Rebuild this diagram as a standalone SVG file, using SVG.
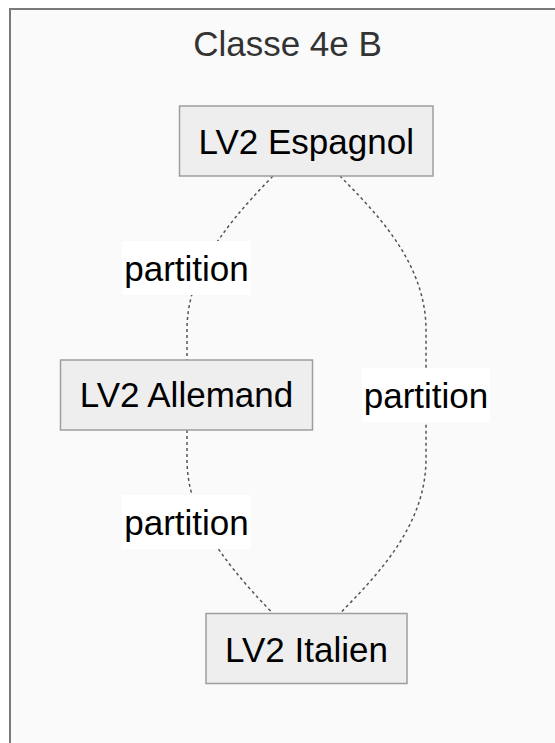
<svg xmlns="http://www.w3.org/2000/svg" width="555" height="743" viewBox="0 0 555 743">
<style>
text{font-family:"Liberation Sans",Arial,Helvetica,sans-serif;font-size:35px;text-anchor:middle}
.node rect{fill:#eeeeee;stroke:#9e9e9e;stroke-width:1.5}
.node text{fill:#000}
.edge{fill:none;stroke:#555;stroke-width:1.5;stroke-dasharray:3 3}
.lbl rect{fill:#fff}
.lbl text{fill:#000}
</style>
<rect width="555" height="743" fill="#fff"/>
<g id="cluster">
<rect x="10" y="9" width="600" height="800" fill="#fafafa" stroke="#7a7a7a" stroke-width="2"/>
<text x="287.5" y="56" fill="#333">Classe 4e B</text>
</g>
<g id="connectors">
<path class="edge" d="M273,176 C215,235 187,280 187,330 L187,360"/>
<path class="edge" d="M187,430 L187,459 C187,509 215,554 273,613.5"/>
<path class="edge" d="M340,176 C375,212 426,262 426,330 L426,459 C426,527 375,577 340,613.5"/>
<g class="lbl"><rect x="122" y="241" width="129" height="54"/><text x="186.5" y="281">partition</text></g>
<g class="lbl"><rect x="362" y="368" width="128" height="54"/><text x="426" y="408">partition</text></g>
<g class="lbl"><rect x="122" y="495" width="129" height="54"/><text x="186.5" y="535">partition</text></g>
</g>
<g id="espagnol" class="node"><rect x="179.5" y="106" width="253.5" height="70"/><text x="306.25" y="154">LV2 Espagnol</text></g>
<g id="allemand" class="node"><rect x="60.5" y="360" width="252" height="70"/><text x="186.5" y="407">LV2 Allemand</text></g>
<g id="italien" class="node"><rect x="206" y="613.5" width="201" height="70"/><text x="306.5" y="661.5">LV2 Italien</text></g>
</svg>
